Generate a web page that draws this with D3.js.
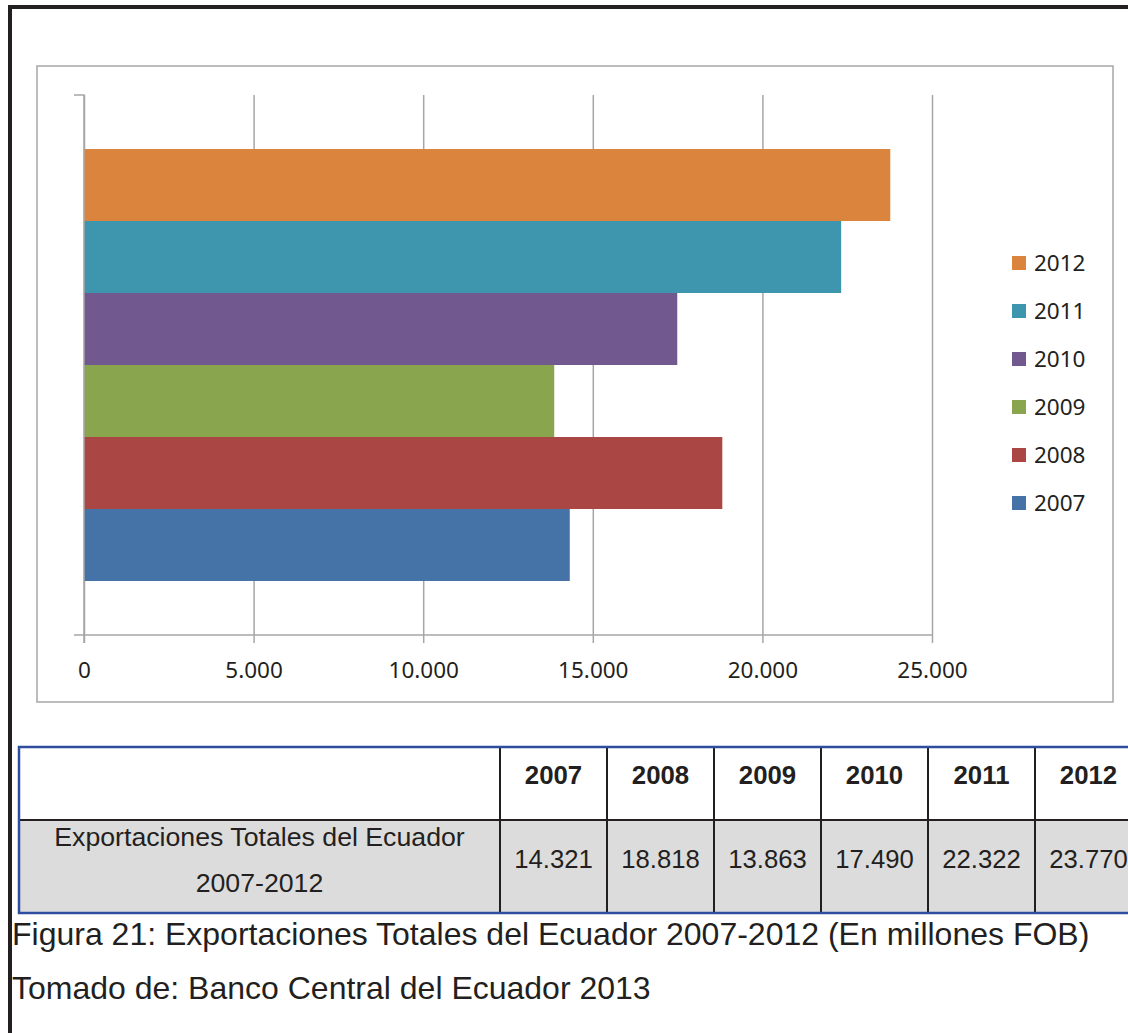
<!DOCTYPE html>
<html>
<head>
<meta charset="utf-8">
<script src="https://cdn.jsdelivr.net/npm/d3@7"></script>
<style>
  body { margin: 0; background: #fff; }
  svg { display: block; }
</style>
</head>
<body>
<svg width="1128" height="1033"></svg>
<script>
const years = ['2007', '2008', '2009', '2010', '2011', '2012'];
const exportsFob = [14321, 18818, 13863, 17490, 22322, 23770];
const colors = ['#4572a7', '#aa4643', '#89a54e', '#71588f', '#3d96ae', '#db843d'];
const xTicks = [0, 5000, 10000, 15000, 20000, 25000];
const rowLabel = ['Exportaciones Totales del Ecuador', '2007-2012'];
const caption = 'Figura 21: Exportaciones Totales del Ecuador 2007-2012 (En millones FOB)';
const source = 'Tomado de: Banco Central del Ecuador 2013';

const locale = d3.formatLocale({ decimal: ',', thousands: '.', grouping: [3], currency: ['$', ''] });
const fmt = locale.format(',d');

const svg = d3.select('svg');
const chartFont = '"Noto Sans", "Open Sans", sans-serif';
const docFont = '"Liberation Sans", Arial, sans-serif';

// page border
svg.append('path')
    .attr('d', 'M10,1033 V7 H1128')
    .attr('fill', 'none')
    .attr('stroke', '#231f20')
    .attr('stroke-width', 4);

// chart frame
svg.append('rect')
    .attr('x', 37).attr('y', 66)
    .attr('width', 1076).attr('height', 636)
    .attr('fill', '#fff')
    .attr('stroke', '#a6a6a6')
    .attr('stroke-width', 1.5);

const plot = { left: 84, right: 932, top: 95, bottom: 635 };

const x = d3.scaleLinear()
    .domain([0, 25000])
    .range([plot.left, plot.right]);

const y = d3.scaleBand()
    .domain(years.slice().reverse())
    .range([plot.top, plot.bottom])
    .paddingInner(0)
    .paddingOuter(0.75);

// gridlines
svg.append('g')
    .attr('transform', `translate(0, ${plot.bottom})`)
    .call(d3.axisBottom(x)
        .tickValues(xTicks)
        .tickSize(-(plot.bottom - plot.top))
        .tickFormat(''))
    .call(g => g.select('.domain').remove())
    .call(g => g.selectAll('line').attr('stroke', '#a6a6a6').attr('stroke-width', 1.5));

// bars
svg.append('g')
    .selectAll('rect')
    .data(years)
    .join('rect')
    .attr('x', x(0))
    .attr('y', d => y(d))
    .attr('width', (d, i) => x(exportsFob[i]) - x(0))
    .attr('height', y.bandwidth())
    .attr('fill', (d, i) => colors[i]);

// x axis
const xAxis = svg.append('g')
    .attr('transform', `translate(0, ${plot.bottom})`)
    .call(d3.axisBottom(x)
        .tickValues(xTicks)
        .tickSize(8)
        .tickPadding(19)
        .tickFormat(d => fmt(d)));
xAxis.select('.domain').remove();
xAxis.selectAll('line').attr('stroke', '#a6a6a6').attr('stroke-width', 1.5);
xAxis.selectAll('text')
    .attr('fill', '#231f20')
    .style('font-family', chartFont)
    .style('font-size', '22.5px');

svg.append('line')
    .attr('x1', plot.left - 10).attr('x2', plot.right)
    .attr('y1', plot.bottom).attr('y2', plot.bottom)
    .attr('stroke', '#a6a6a6').attr('stroke-width', 1.5);

// y axis
svg.append('path')
    .attr('d', `M${plot.left - 10},${plot.top} H${plot.left} V${plot.bottom + 8}`)
    .attr('fill', 'none')
    .attr('stroke', '#a6a6a6')
    .attr('stroke-width', 1.5);

// legend
const legend = svg.append('g')
    .selectAll('g')
    .data(years.slice().reverse())
    .join('g')
    .attr('transform', (d, i) => `translate(1012, ${263 + i * 48})`);
legend.append('rect')
    .attr('x', 0).attr('y', -7)
    .attr('width', 14).attr('height', 14)
    .attr('fill', d => colors[years.indexOf(d)]);
legend.append('text')
    .attr('x', 22).attr('y', 8)
    .attr('fill', '#231f20')
    .style('font-family', chartFont)
    .style('font-size', '22.5px')
    .text(d => d);

// table
const table = { left: 19, top: 747, mid: 820, bottom: 913, firstCol: 500, colW: 107 };
const col = d3.scaleBand()
    .domain(years)
    .range([table.firstCol, table.firstCol + table.colW * years.length]);

svg.append('rect')
    .attr('x', table.left).attr('y', table.mid)
    .attr('width', 1128 - table.left).attr('height', table.bottom - table.mid)
    .attr('fill', '#dcdcdc');

svg.append('line')
    .attr('x1', table.left).attr('x2', 1128)
    .attr('y1', table.mid).attr('y2', table.mid)
    .attr('stroke', '#231f20').attr('stroke-width', 2);

svg.append('g')
    .selectAll('line')
    .data(years)
    .join('line')
    .attr('x1', d => col(d)).attr('x2', d => col(d))
    .attr('y1', table.top).attr('y2', table.bottom)
    .attr('stroke', '#231f20').attr('stroke-width', 2);

svg.append('path')
    .attr('d', `M1128,${table.top} H${table.left} V${table.bottom} H1128`)
    .attr('fill', 'none')
    .attr('stroke', '#2f4d9e')
    .attr('stroke-width', 2.5);

svg.append('g')
    .selectAll('text')
    .data(years)
    .join('text')
    .attr('x', d => col(d) + col.bandwidth() / 2)
    .attr('y', 784)
    .attr('text-anchor', 'middle')
    .attr('fill', '#231f20')
    .style('font-family', docFont)
    .style('font-weight', 'bold')
    .style('font-size', '25.8px')
    .text(d => d);

svg.append('g')
    .selectAll('text')
    .data(exportsFob)
    .join('text')
    .attr('x', (d, i) => col(years[i]) + col.bandwidth() / 2)
    .attr('y', 868)
    .attr('text-anchor', 'middle')
    .attr('fill', '#231f20')
    .style('font-family', docFont)
    .style('font-size', '25.7px')
    .text(d => fmt(d));

svg.append('g')
    .selectAll('text')
    .data(rowLabel)
    .join('text')
    .attr('x', (table.left + table.firstCol) / 2)
    .attr('y', (d, i) => 846 + i * 46)
    .attr('text-anchor', 'middle')
    .attr('fill', '#231f20')
    .style('font-family', docFont)
    .style('font-size', '26.7px')
    .text(d => d);

// caption
svg.append('g')
    .selectAll('text')
    .data([caption, source])
    .join('text')
    .attr('x', 12)
    .attr('y', (d, i) => 945 + i * 54)
    .attr('fill', '#231f20')
    .style('font-family', docFont)
    .style('font-size', '32px')
    .text(d => d);
</script>
</body>
</html>
